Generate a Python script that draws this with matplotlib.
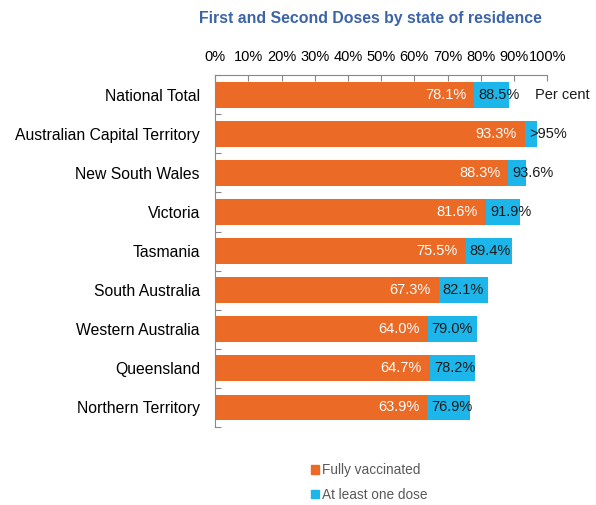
import matplotlib
matplotlib.use("Agg")
import matplotlib.pyplot as plt
from matplotlib.patches import Patch

categories = ["National Total", "Australian Capital Territory", "New South Wales",
              "Victoria", "Tasmania", "South Australia", "Western Australia",
              "Queensland", "Northern Territory"]
fully = [78.1, 93.3, 88.3, 81.6, 75.5, 67.3, 64.0, 64.7, 63.9]
first = [88.5, 97.0, 93.6, 91.9, 89.4, 82.1, 79.0, 78.2, 76.9]
first_labels = ["88.5%", ">95%", "93.6%", "91.9%", "89.4%", "82.1%", "79.0%", "78.2%", "76.9%"]
xticks = [0, 10, 20, 30, 40, 50, 60, 70, 80, 90, 100]

plt.rcParams['font.family'] = ['Liberation Sans', 'DejaVu Sans']

orange = '#EB6A25'
cyan = '#1DB6EA'

fig = plt.figure(figsize=(5.96, 5.05), dpi=100)
ax = fig.add_axes([0.361, 0.1545, 0.557, 0.6965])

y = list(range(len(categories)))
h = 0.66
diff = [f2 - f1 for f1, f2 in zip(fully, first)]
ax.barh(y, fully, height=h, color=orange, label='Fully vaccinated')
ax.barh(y, diff, left=fully, height=h, color=cyan, label='At least one dose')

for i in y:
    ax.text(fully[i] - 2.4, i, f"{fully[i]:.1f}%", ha='right', va='center',
            color='white', fontsize=10.5)
    ax.text(fully[i] + 1.2, i, first_labels[i], ha='left', va='center',
            color='#1a1a1a', fontsize=10.5)

ax.set_xlim(0, 100)
ax.set_ylim(len(categories) - 0.5, -0.5)
ax.xaxis.tick_top()
ax.set_xticks(xticks)
ax.set_xticklabels([f"{t}%" for t in xticks], fontsize=10.5)
ax.tick_params(axis='x', direction='in', length=4, color='#888888', pad=8)

ax.set_yticks([i - 0.5 for i in range(len(categories) + 1)], minor=False)
ax.set_yticklabels([])
ax.set_yticks(y, minor=True)
ax.set_yticklabels(categories, minor=True, fontsize=11.3)
ax.tick_params(axis='y', which='major', direction='in', length=4, color='#888888')
ax.tick_params(axis='y', which='minor', length=0, pad=11)

for s in ['right', 'bottom']:
    ax.spines[s].set_visible(False)
for s in ['top', 'left']:
    ax.spines[s].set_color('#888888')
    ax.spines[s].set_linewidth(0.8)

ax.text(1.045, 0, "Per cent", transform=ax.get_yaxis_transform(), ha='center',
        va='center', fontsize=10.5, color='#1a1a1a')

fig.text(0.621, 0.964, "First and Second Doses by state of residence", ha='center',
         va='center', fontsize=11.4, fontweight='bold', color='#3C64A8')

handles = [Patch(color=orange, label='Fully vaccinated'),
           Patch(color=cyan, label='At least one dose')]
leg = fig.legend(handles=handles, loc='upper left', bbox_to_anchor=(0.502, 0.107),
                 frameon=False, fontsize=9.8, handlelength=0.55, handleheight=0.55,
                 handletextpad=0.25, labelspacing=0.8, labelcolor='#595959')

fig.savefig("out.png", dpi=100)
